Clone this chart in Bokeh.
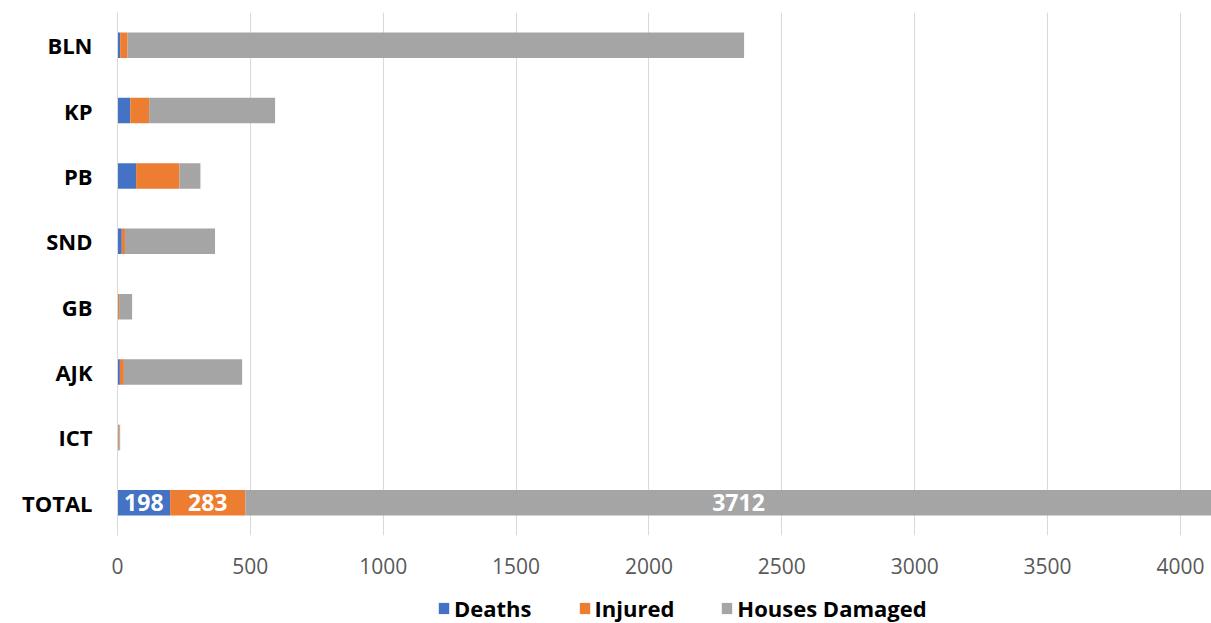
from bokeh.plotting import figure
from bokeh.layouts import column
from bokeh.models import FactorRange, Range1d, Legend, LegendItem, ColumnDataSource, FixedTicker
from bokeh.core.properties import value
from bokeh.embed import file_html
from bokeh.resources import INLINE

regions = ["BLN", "KP", "PB", "SND", "GB", "AJK", "ICT", "TOTAL"]
deaths = [10, 48, 70, 16, 1, 9, 4, 198]
injured = [28, 71, 163, 12, 5, 15, 4, 283]
houses = [2320, 474, 79, 339, 49, 445, 2, 3712]
series = ["Deaths", "Injured", "Houses Damaged"]
colors = ["#4472C4", "#ED7D31", "#A5A5A5"]
x_ticks = [0, 500, 1000, 1500, 2000, 2500, 3000, 3500, 4000]

FONT = "Open Sans"

data = {"region": regions, "Deaths": deaths, "Injured": injured, "Houses Damaged": houses}
src = ColumnDataSource(data)

p = figure(frame_width=1094, frame_height=523, output_backend="svg", toolbar_location=None,
           y_range=FactorRange(factors=regions[::-1], range_padding=0),
           x_range=Range1d(0, 4117),
           min_border_left=117, min_border_right=0, min_border_top=12, min_border_bottom=55)

renderers = p.hbar_stack(series, y="region", height=0.39, color=colors, source=src, line_color=None)

# data labels on TOTAL bar
t = regions.index("TOTAL")
vals = [deaths[t], injured[t], houses[t]]
centers = []
acc = 0
for v in vals:
    centers.append(acc + v / 2)
    acc += v
lab = ColumnDataSource(dict(x=centers, y=["TOTAL"] * 3, text=[str(v) for v in vals]))
p.text(x="x", y="y", text="text", source=lab, text_color="white", text_font=value(FONT),
       text_font_style="bold", text_font_size="23px", text_align="center", text_baseline="middle")

p.outline_line_color = None
p.background_fill_color = "white"
p.border_fill_color = "white"

p.ygrid.grid_line_color = None
p.xgrid.grid_line_color = "#D9D9D9"
p.xgrid.grid_line_width = 1
p.xaxis.ticker = FixedTicker(ticks=x_ticks)
p.xaxis.axis_line_color = None
p.xaxis.major_tick_line_color = None
p.xaxis.minor_tick_line_color = None
p.xaxis.major_tick_out = 0
p.xaxis.major_tick_in = 0
p.xaxis.major_label_text_font = FONT
p.xaxis.major_label_text_font_size = "21px"
p.xaxis.major_label_text_color = "#595959"
p.xaxis.major_label_standoff = 22

p.yaxis.axis_line_color = "#D9D9D9"
p.yaxis.major_tick_line_color = None
p.yaxis.minor_tick_line_color = None
p.yaxis.major_tick_out = 0
p.yaxis.major_tick_in = 0
p.yaxis.major_label_text_font = FONT
p.yaxis.major_label_text_font_size = "22px"
p.yaxis.major_label_text_font_style = "bold"
p.yaxis.major_label_text_color = "black"
p.yaxis.major_label_standoff = 25

# legend in its own strip below the chart (bars here fall outside its view)
lg = figure(frame_width=1211, frame_height=33, output_backend="svg", toolbar_location=None,
            x_range=Range1d(-2, -1), y_range=FactorRange(factors=regions[::-1]),
            min_border_left=0, min_border_right=0, min_border_top=0, min_border_bottom=0)
lg.axis.visible = False
lg.grid.visible = False
lg.outline_line_color = None
lrs = lg.hbar_stack(series, y="region", height=0.39, color=colors, source=src, line_color=None)

legend = Legend(items=[LegendItem(label=s, renderers=[r]) for s, r in zip(series, lrs)],
                orientation="horizontal", location=(437, 0),
                label_text_font=FONT, label_text_font_size="22px", label_text_font_style="bold",
                label_text_color="black", glyph_width=13, glyph_height=14, spacing=46,
                label_standoff=4, border_line_color=None, background_fill_alpha=0,
                padding=0, margin=0)
lg.add_layout(legend, "center")

layout = column(p, lg, spacing=0)
open("out.html", "w").write(file_html(layout, INLINE))
